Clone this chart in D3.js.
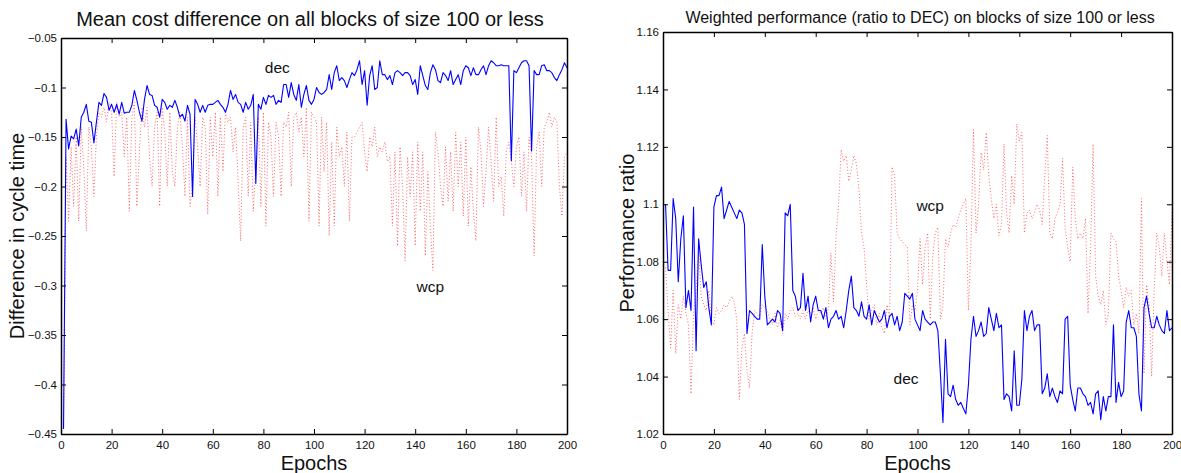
<!DOCTYPE html>
<html>
<head>
<meta charset="utf-8">
<script src="https://cdn.jsdelivr.net/npm/d3@7"></script>
<style>
  body { margin: 0; background: #fff; }
  svg { font-family: "Liberation Sans", Arial, Helvetica, sans-serif; }
</style>
</head>
<body>
<svg width="1181" height="473"></svg>
<script>
// epochs 1..200
var epochs = d3.range(1, 201);
var xTicks = d3.range(0, 201, 20);

// left panel: mean cost difference
var leftDec = [
  -0.445,-0.132,-0.162,-0.149,-0.152,-0.142,-0.159,-0.130,-0.125,-0.117,
  -0.134,-0.135,-0.156,-0.135,-0.115,-0.118,-0.106,-0.110,-0.123,-0.117,
  -0.125,-0.117,-0.127,-0.115,-0.126,-0.125,-0.125,-0.118,-0.103,-0.113,
  -0.125,-0.134,-0.112,-0.098,-0.107,-0.108,-0.118,-0.120,-0.130,-0.112,
  -0.115,-0.122,-0.118,-0.120,-0.113,-0.120,-0.130,-0.127,-0.134,-0.118,
  -0.127,-0.210,-0.112,-0.117,-0.125,-0.118,-0.125,-0.118,-0.117,-0.117,
  -0.115,-0.113,-0.117,-0.120,-0.125,-0.117,-0.103,-0.112,-0.107,-0.115,
  -0.117,-0.125,-0.115,-0.122,-0.118,-0.107,-0.197,-0.117,-0.122,-0.110,
  -0.117,-0.108,-0.110,-0.108,-0.117,-0.113,-0.115,-0.097,-0.097,-0.110,
  -0.095,-0.107,-0.113,-0.097,-0.120,-0.107,-0.098,-0.113,-0.117,-0.112,
  -0.100,-0.105,-0.107,-0.105,-0.102,-0.087,-0.102,-0.085,-0.078,-0.093,
  -0.090,-0.093,-0.100,-0.092,-0.085,-0.088,-0.082,-0.073,-0.097,-0.083,
  -0.118,-0.088,-0.078,-0.102,-0.100,-0.073,-0.087,-0.087,-0.092,-0.088,
  -0.097,-0.085,-0.083,-0.085,-0.088,-0.085,-0.085,-0.088,-0.097,-0.092,
  -0.107,-0.078,-0.088,-0.098,-0.102,-0.085,-0.077,-0.082,-0.093,-0.095,
  -0.085,-0.088,-0.093,-0.083,-0.097,-0.092,-0.087,-0.097,-0.083,-0.078,
  -0.080,-0.088,-0.080,-0.087,-0.087,-0.082,-0.078,-0.087,-0.078,-0.073,
  -0.075,-0.078,-0.078,-0.077,-0.078,-0.078,-0.078,-0.174,-0.083,-0.085,
  -0.080,-0.075,-0.073,-0.073,-0.078,-0.164,-0.083,-0.087,-0.087,-0.078,
  -0.077,-0.083,-0.083,-0.085,-0.090,-0.093,-0.087,-0.082,-0.075,-0.080
];
var leftWcp = [
  -0.445,-0.170,-0.235,-0.160,-0.220,-0.150,-0.235,-0.140,-0.180,-0.245,
  -0.140,-0.160,-0.210,-0.150,-0.125,-0.130,-0.120,-0.135,-0.115,-0.125,
  -0.190,-0.115,-0.130,-0.125,-0.170,-0.130,-0.225,-0.130,-0.115,-0.220,
  -0.165,-0.120,-0.140,-0.120,-0.170,-0.200,-0.140,-0.125,-0.220,-0.120,
  -0.145,-0.200,-0.125,-0.185,-0.200,-0.140,-0.125,-0.160,-0.210,-0.130,
  -0.220,-0.200,-0.130,-0.160,-0.200,-0.130,-0.140,-0.228,-0.130,-0.170,
  -0.125,-0.210,-0.130,-0.185,-0.125,-0.135,-0.130,-0.165,-0.140,-0.195,
  -0.255,-0.140,-0.130,-0.210,-0.135,-0.225,-0.180,-0.130,-0.220,-0.125,
  -0.240,-0.135,-0.150,-0.210,-0.135,-0.150,-0.210,-0.135,-0.140,-0.125,
  -0.200,-0.130,-0.125,-0.145,-0.130,-0.170,-0.120,-0.235,-0.125,-0.130,
  -0.135,-0.240,-0.130,-0.185,-0.135,-0.250,-0.155,-0.240,-0.140,-0.170,
  -0.160,-0.200,-0.145,-0.235,-0.150,-0.150,-0.145,-0.140,-0.135,-0.165,
  -0.185,-0.150,-0.160,-0.140,-0.170,-0.160,-0.165,-0.155,-0.175,-0.170,
  -0.240,-0.165,-0.260,-0.160,-0.200,-0.275,-0.170,-0.210,-0.165,-0.260,
  -0.155,-0.225,-0.165,-0.270,-0.185,-0.240,-0.285,-0.145,-0.165,-0.200,
  -0.220,-0.160,-0.215,-0.165,-0.225,-0.145,-0.200,-0.155,-0.230,-0.150,
  -0.240,-0.180,-0.225,-0.255,-0.140,-0.165,-0.220,-0.185,-0.140,-0.175,
  -0.215,-0.130,-0.200,-0.190,-0.230,-0.165,-0.155,-0.175,-0.200,-0.160,
  -0.150,-0.210,-0.165,-0.225,-0.150,-0.170,-0.270,-0.160,-0.145,-0.200,
  -0.140,-0.135,-0.125,-0.140,-0.130,-0.135,-0.200,-0.230,-0.170,-0.165
];
var leftYTicks = [-0.45,-0.4,-0.35,-0.3,-0.25,-0.2,-0.15,-0.1,-0.05];

// right panel: weighted performance ratio
var rightDec = [
  1.100,1.077,1.077,1.102,1.095,1.073,1.088,1.096,1.064,1.070,
  1.063,1.099,1.049,1.088,1.079,1.071,1.073,1.064,1.058,1.099,
  1.103,1.103,1.106,1.095,1.098,1.101,1.099,1.097,1.095,1.098,
  1.097,1.093,1.055,1.063,1.062,1.061,1.060,1.060,1.086,1.068,
  1.058,1.059,1.060,1.059,1.063,1.062,1.056,1.097,1.096,1.100,
  1.070,1.068,1.063,1.064,1.076,1.063,1.068,1.059,1.065,1.068,
  1.063,1.063,1.060,1.064,1.057,1.060,1.061,1.063,1.060,1.061,
  1.057,1.063,1.070,1.075,1.064,1.063,1.061,1.066,1.061,1.060,
  1.065,1.058,1.063,1.061,1.059,1.060,1.063,1.057,1.061,1.062,
  1.058,1.061,1.056,1.059,1.069,1.068,1.067,1.069,1.060,1.058,
  1.056,1.063,1.060,1.059,1.058,1.059,1.059,1.056,1.041,1.024,
  1.053,1.034,1.033,1.037,1.032,1.030,1.031,1.029,1.027,1.037,
  1.053,1.061,1.054,1.056,1.059,1.054,1.055,1.064,1.060,1.056,
  1.062,1.057,1.058,1.032,1.034,1.033,1.028,1.049,1.030,1.030,
  1.039,1.063,1.056,1.061,1.063,1.056,1.058,1.058,1.034,1.036,
  1.041,1.033,1.036,1.033,1.031,1.035,1.034,1.060,1.061,1.037,
  1.032,1.028,1.036,1.036,1.034,1.033,1.030,1.031,1.027,1.034,
  1.035,1.025,1.033,1.028,1.033,1.033,1.058,1.031,1.038,1.033,
  1.035,1.059,1.063,1.057,1.057,1.054,1.034,1.028,1.064,1.068,
  1.062,1.057,1.057,1.061,1.058,1.056,1.055,1.063,1.056,1.057
];
var rightWcp = [
  1.078,1.063,1.050,1.070,1.048,1.065,1.060,1.068,1.062,1.058,
  1.034,1.062,1.070,1.085,1.068,1.065,1.063,1.070,1.060,1.058,
  1.064,1.062,1.063,1.065,1.064,1.066,1.068,1.066,1.060,1.032,
  1.050,1.055,1.042,1.036,1.055,1.063,1.062,1.061,1.065,1.064,
  1.063,1.060,1.058,1.062,1.057,1.060,1.055,1.062,1.060,1.063,
  1.064,1.061,1.062,1.060,1.063,1.060,1.063,1.062,1.064,1.060,
  1.063,1.062,1.064,1.060,1.064,1.083,1.066,1.089,1.100,1.119,
  1.115,1.117,1.108,1.112,1.117,1.114,1.105,1.090,1.085,1.072,
  1.060,1.063,1.065,1.058,1.062,1.057,1.055,1.065,1.060,1.113,
  1.110,1.090,1.088,1.087,1.086,1.085,1.058,1.065,1.063,1.070,
  1.088,1.072,1.085,1.090,1.060,1.082,1.090,1.092,1.060,1.065,
  1.088,1.085,1.090,1.093,1.092,1.095,1.098,1.100,1.102,1.063,
  1.085,1.126,1.090,1.100,1.118,1.112,1.125,1.110,1.102,1.095,
  1.100,1.089,1.093,1.121,1.097,1.090,1.110,1.100,1.128,1.122,
  1.125,1.090,1.097,1.098,1.095,1.097,1.100,1.098,1.093,1.110,
  1.124,1.090,1.088,1.095,1.097,1.100,1.116,1.092,1.085,1.080,
  1.113,1.095,1.088,1.090,1.088,1.095,1.062,1.085,1.121,1.075,
  1.068,1.065,1.070,1.058,1.062,1.090,1.088,1.087,1.075,1.070,
  1.064,1.071,1.068,1.070,1.058,1.062,1.055,1.102,1.041,1.072,
  1.065,1.040,1.070,1.090,1.085,1.075,1.090,1.080,1.072,1.098
];
var rightYTicks = [1.02,1.04,1.06,1.08,1.1,1.12,1.14,1.16];

var svg = d3.select("svg");

var drawPanel = function(opt)
{
  var x = d3.scaleLinear().domain([0, 200]).range([opt.left, opt.right]);
  var y = d3.scaleLinear().domain(opt.yDomain).range([opt.bottom, opt.top]);
  var g = svg.append("g");

  var clipId = "clip" + opt.name;
  svg.append("clipPath").attr("id", clipId)
    .append("rect")
    .attr("x", opt.left).attr("y", opt.top)
    .attr("width", opt.right - opt.left).attr("height", opt.bottom - opt.top);

  var line = d3.line()
    .x(function(d, i) { return x(epochs[i]); })
    .y(function(d) { return y(d); });

  // wcp dotted red, dec solid blue
  g.append("path")
    .attr("clip-path", "url(#" + clipId + ")")
    .attr("d", line(opt.wcp))
    .attr("fill", "none")
    .attr("stroke", "#ff2020")
    .attr("stroke-width", 0.8)
    .attr("stroke-dasharray", "1,2.2")
    .attr("opacity", 0.85);
  g.append("path")
    .attr("clip-path", "url(#" + clipId + ")")
    .attr("d", line(opt.dec))
    .attr("fill", "none")
    .attr("stroke", "#0000ff")
    .attr("stroke-width", 1.1)
    .attr("stroke-linejoin", "round");

  // axes, ticks pointing inward like matlab
  var fmt = function(d) { return opt.fmt(d).replace("-", "\u2212"); };
  var tl = 5;
  g.append("g").attr("transform", "translate(0," + opt.bottom + ")")
    .call(d3.axisBottom(x).tickValues(xTicks).tickSizeInner(-tl).tickSizeOuter(0).tickPadding(7));
  g.append("g").attr("transform", "translate(0," + opt.top + ")")
    .call(d3.axisTop(x).tickValues(xTicks).tickSizeInner(-tl).tickSizeOuter(0).tickFormat(""));
  g.append("g").attr("transform", "translate(" + opt.left + ",0)")
    .call(d3.axisLeft(y).tickValues(opt.yTicks).tickSizeInner(-tl).tickSizeOuter(0).tickPadding(4).tickFormat(fmt));
  g.append("g").attr("transform", "translate(" + opt.right + ",0)")
    .call(d3.axisRight(y).tickValues(opt.yTicks).tickSizeInner(-tl).tickSizeOuter(0).tickFormat(""));

  g.selectAll(".domain").attr("stroke", "#000").attr("stroke-width", 1.5);
  g.selectAll(".tick line").attr("stroke", "#000").attr("stroke-width", 1);
  g.selectAll(".tick text").attr("font-size", 11.5).attr("fill", "#111")
    .attr("font-family", "Liberation Sans, Arial, sans-serif");

  // titles and labels
  var cx = (opt.left + opt.right) / 2;
  svg.append("text")
    .attr("x", opt.titleX).attr("y", opt.titleY)
    .attr("text-anchor", "middle")
    .attr("font-size", opt.titleSize)
    .attr("fill", "#111")
    .text(opt.title);

  svg.append("text")
    .attr("x", cx).attr("y", 470)
    .attr("text-anchor", "middle")
    .attr("font-size", 20)
    .attr("fill", "#111")
    .text("Epochs");

  svg.append("text")
    .attr("transform", "translate(" + opt.yLabelX + "," + ((opt.top + opt.bottom) / 2) + ") rotate(-90)")
    .attr("text-anchor", "middle")
    .attr("font-size", 20)
    .attr("fill", "#111")
    .text(opt.yLabel);

  // series labels on the plot
  opt.labels.forEach(function(l) {
    svg.append("text")
      .attr("x", x(l.e)).attr("y", y(l.v))
      .attr("text-anchor", "middle")
      .attr("font-size", 15.5)
      .attr("fill", "#111")
      .text(l.text);
  });
};

drawPanel({
  name: "L", left: 61, right: 567, top: 38, bottom: 434,
  yDomain: [-0.45, -0.05], yTicks: leftYTicks, fmt: d3.format(".2~f"),
  dec: leftDec, wcp: leftWcp,
  title: "Mean cost difference on all blocks of size 100 or less",
  titleX: 310, titleY: 26, titleSize: 20,
  yLabel: "Difference in cycle time", yLabelX: 24,
  labels: [{text: "dec", e: 85.5, v: -0.0853}, {text: "wcp", e: 146, v: -0.3065}]
});

drawPanel({
  name: "R", left: 663, right: 1172, top: 32, bottom: 434,
  yDomain: [1.02, 1.16], yTicks: rightYTicks, fmt: d3.format(".2~f"),
  dec: rightDec, wcp: rightWcp,
  title: "Weighted performance (ratio to DEC) on blocks of size 100 or less",
  titleX: 920, titleY: 23, titleSize: 16,
  yLabel: "Performance ratio", yLabelX: 634,
  labels: [{text: "wcp", e: 105, v: 1.0975}, {text: "dec", e: 95.5, v: 1.0375}]
});
</script>
</body>
</html>
